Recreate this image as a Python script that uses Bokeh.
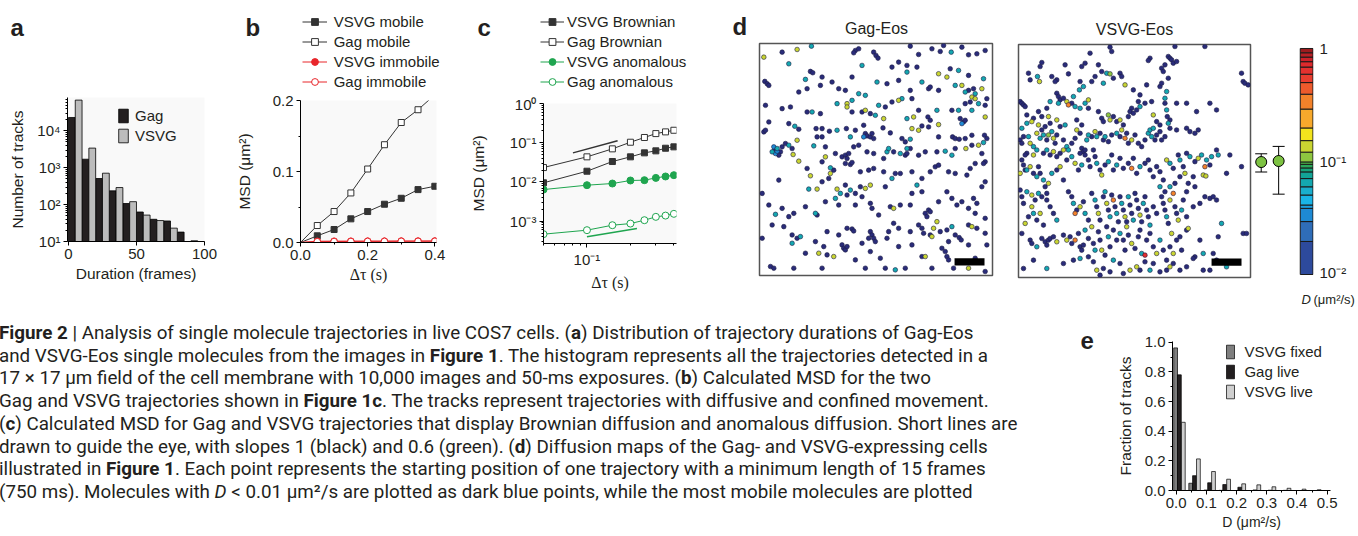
import numpy as np
from bokeh.plotting import figure
from bokeh.models import (Range1d, FixedTicker, Legend, LegendItem, Div,
                          BoxAnnotation, Whisker, TeeHead, ColumnDataSource, NumeralTickFormatter)
from bokeh.layouts import row, column
from bokeh.embed import file_html
from bokeh.resources import INLINE

SANS = "Liberation Sans"
SERIF = "Liberation Serif"
INK = "#231f20"
FS = "15px"

# ---------------- data ----------------
# (a) duration histogram (bins of 10 frames, split Gag | VSVG)
DURATION_BIN = [0, 10, 20, 30, 40, 50, 60, 70, 80, 90]
GAG_TRACKS = [23000, 1700, 510, 236, 107, 63, 40, 36, 18, 10.4]
VSVG_TRACKS = [68000, 3400, 710, 290, 120, 52, 37, 23, 10, 10]

# (b) MSD linear
TAU = [0.05, 0.10, 0.15, 0.20, 0.25, 0.30, 0.35, 0.40]
B_VSVG_MOBILE = [0.0094, 0.0183, 0.0333, 0.0436, 0.0539, 0.0623, 0.0745, 0.0792]
B_GAG_MOBILE = [0.0239, 0.0436, 0.0698, 0.1035, 0.1377, 0.169, 0.187, 0.208]
B_VSVG_IMMOBILE = [0.0018, 0.0019, 0.0019, 0.0020, 0.0020, 0.0021, 0.0021, 0.0022]
B_GAG_IMMOBILE = [0.0012, 0.0014, 0.0015, 0.0016, 0.0016, 0.0017, 0.0017, 0.0018]

# (c) MSD log-log
C_VSVG_BROWN = [0.0095, 0.0188, 0.0332, 0.0437, 0.0552, 0.0621, 0.0724, 0.0785]
C_GAG_BROWN = [0.0233, 0.0437, 0.0698, 0.103, 0.136, 0.171, 0.189, 0.208]
C_VSVG_ANOM = [0.0064, 0.00828, 0.00912, 0.0109, 0.0111, 0.0127, 0.0138, 0.0149]
C_GAG_ANOM = [0.000467, 0.00059, 0.00079, 0.00087, 0.00106, 0.00129, 0.00139, 0.00154]
GUIDE1_X = [0.08, 0.163]
GUIDE1_Y = [0.0552, 0.1117]
GUIDE06_X = [0.1, 0.222]
GUIDE06_Y = [0.000399, 0.00065]

# (d) colour scale bands (D, um^2/s) and colours
CB_EDGES = [0.01, 0.0196, 0.0294, 0.0385, 0.0412, 0.0505, 0.0597, 0.0706, 0.0809, 0.0877,
            0.0944, 0.0991, 0.121, 0.153, 0.198, 0.291, 0.394, 0.499, 0.592, 0.685,
            0.764, 0.839, 0.916, 1.0]
CB_COLORS = ["#2d4a9c", "#2f6db8", "#1e8ad4", "#1b9fe0", "#1ab4e6", "#1aaecd", "#14a8b0",
             "#12a496", "#17a37a", "#2ba65a", "#4eb749", "#8ec640", "#c9d531", "#f2e31d",
             "#f7a92c", "#f3822a", "#ed5a2c", "#e83d2f", "#e4312f", "#dd2a2c", "#cc2229",
             "#b82025", "#9e1b1e"]
DARK_BLUE = "#2a2c7a"
# mean D with range, Gag / VSVG
EB_POS = [0, 1]
EB_D = [0.0989, 0.101]
EB_LO = [0.0807, 0.0514]
EB_HI = [0.117, 0.136]

# start positions (field units, 700 units = 17 um, y measured from top) and D
GAG_SPOTS = [
(25,55,.13),(80,40,.005),(125,32,.13),(168,22,.06),(300,35,.005),(310,30,.005),(295,42,.005),(355,40,.005),(362,50,.005),(368,58,.005),(465,22,.005),(490,47,.005),(530,30,.005),(555,38,.005),(565,20,.005),(588,40,.06),(620,25,.005),(640,48,.005),(665,45,.005),(690,35,.005),(100,75,.06),(320,80,.06),(410,85,.005),(430,70,.005),(455,80,.005),
(165,98,.005),(172,102,.005),(150,122,.06),(200,115,.005),(195,140,.005),(230,130,.005),(290,115,.005),(250,150,.005),(270,155,.005),(28,128,.005),(35,135,.005),(40,140,.005),(365,130,.06),(395,135,.005),(430,125,.005),(455,100,.06),(485,85,.005),(500,130,.06),(520,150,.005),(525,145,.005),(550,105,.13),(575,115,.13),(585,90,.005),(610,95,.06),(640,110,.005),(685,120,.06),(600,140,.06),(620,140,.13),(640,155,.005),(655,150,.005),(630,160,.06),(660,165,.06),(680,150,.13),(550,155,.005),(465,155,.005),(310,165,.06),(330,170,.06),(155,150,.005),(130,160,.005),
(30,200,.005),(80,210,.005),(105,205,.005),(155,220,.005),(170,220,.06),(195,225,.005),(245,195,.06),(275,195,.13),(275,205,.13),(290,185,.06),(290,220,.005),(320,220,.005),(330,215,.13),(345,225,.005),(360,230,.06),(370,200,.06),(385,240,.13),(390,205,.005),(410,190,.005),(430,185,.13),(440,180,.06),(470,180,.005),(475,235,.13),(455,240,.06),(490,215,.005),(518,235,.005),(525,245,.005),(545,215,.06),(550,258,.13),(590,215,.005),(610,215,.06),(630,195,.005),(645,190,.005),(650,175,.13),(660,180,.13),(670,195,.06),(690,200,.005),(695,180,.005),(690,235,.13),(615,240,.005),(625,250,.005),(620,255,.03),(630,245,.005),(650,215,.06),
(40,250,.005),(100,255,.005),(118,263,.06),(130,272,.005),(25,280,.005),(30,275,.005),(182,270,.005),(200,270,.005),(222,278,.005),(245,275,.06),(273,270,.005),(300,275,.005),(325,260,.005),(330,285,.005),(335,292,.005),(345,295,.005),(325,295,.03),(355,300,.005),(350,285,.005),(383,268,.005),(405,283,.005),(440,300,.005),(465,302,.06),(470,270,.13),(490,275,.13),(500,262,.005),(520,265,.005),(550,295,.005),(592,295,.005),(600,300,.005),(612,302,.005),(630,300,.005),(650,290,.005),(688,290,.005),(695,300,.005),(285,295,.06),(185,295,.005),(200,295,.005),
(55,325,.03),(65,330,.06),(75,340,.005),(60,345,.03),(70,350,.005),(50,340,.06),(80,325,.005),(90,315,.005),(100,320,.06),(110,330,.005),(65,338,.03),(58,333,.005),(125,305,.13),(113,348,.13),(130,368,.13),(175,322,.06),(210,325,.005),(210,355,.13),(240,345,.005),(260,355,.005),(270,350,.005),(275,360,.005),(280,345,.005),(270,375,.005),(285,378,.005),(290,372,.005),(295,325,.005),(310,320,.005),(335,340,.005),(355,345,.005),(385,360,.005),(395,340,.06),(400,330,.06),(415,340,.005),(435,345,.06),(450,350,.005),(455,345,.005),(450,310,.005),(455,330,.06),(465,330,.005),(490,350,.005),(510,340,.005),(545,340,.005),(570,338,.06),(590,350,.06),(600,330,.005),(632,330,.13),(650,320,.005),(670,320,.13),(685,312,.06),(680,345,.005),(690,370,.005),(685,375,.005),
(70,425,.005),(155,390,.005),(165,412,.13),(200,370,.005),(225,388,.06),(225,405,.13),(235,395,.005),(220,420,.005),(200,430,.005),(185,452,.13),(160,452,.06),(245,452,.13),(270,440,.005),(285,455,.06),(300,465,.005),(315,445,.005),(330,450,.13),(345,440,.13),(315,400,.005),(340,395,.005),(355,390,.005),(385,400,.005),(390,445,.005),(410,420,.06),(420,405,.005),(435,405,.005),(470,400,.005),(485,440,.06),(500,420,.005),(525,400,.005),(540,385,.005),(550,380,.005),(580,400,.005),(600,405,.005),(635,410,.005),(645,390,.005),(660,375,.005),(690,430,.005),(680,445,.005),
(20,465,.005),(40,500,.005),(60,528,.06),(80,510,.005),(100,535,.005),(115,525,.005),(150,505,.005),(180,525,.06),(185,530,.005),(210,490,.005),(240,480,.06),(250,500,.005),(255,465,.06),(275,470,.005),(300,500,.005),(320,475,.005),(345,495,.005),(350,510,.005),(370,530,.005),(405,505,.005),(415,510,.13),(435,500,.005),(465,500,.005),(470,465,.005),(500,460,.005),(510,525,.005),(515,535,.005),(520,515,.005),(525,520,.005),(545,550,.13),(550,490,.005),(575,460,.005),(590,480,.005),(605,500,.005),(620,490,.005),(640,510,.005),(655,480,.005),(665,495,.005),(660,525,.005),(690,540,.005),
(20,600,.005),(50,560,.005),(85,565,.005),(110,590,.005),(110,615,.06),(125,600,.005),(135,595,.06),(180,610,.005),(215,580,.005),(250,590,.005),(275,570,.005),(290,572,.005),(295,578,.005),(345,580,.005),(350,590,.005),(355,600,.005),(340,600,.005),(395,600,.005),(400,580,.005),(415,555,.005),(430,570,.005),(465,580,.005),(490,560,.005),(500,570,.005),(505,585,.005),(525,590,.005),(530,595,.13),(535,570,.13),(555,580,.005),(575,575,.005),(580,610,.005),(590,565,.06),(600,590,.005),(612,598,.005),(618,605,.005),(640,560,.005),(650,565,.13),(665,570,.005),(690,585,.005),(695,620,.005),(640,620,.005),
(45,685,.005),(55,690,.005),(115,690,.005),(150,645,.005),(190,645,.13),(205,625,.005),(215,650,.005),(235,655,.13),(200,690,.005),(260,620,.005),(265,630,.005),(270,635,.005),(275,625,.005),(300,665,.005),(330,690,.005),(345,640,.005),(375,660,.005),(390,690,.005),(420,695,.06),(430,625,.005),(450,690,.005),(470,620,.005),(500,655,.005),(510,655,.13),(530,690,.005),(560,630,.005),(570,640,.005),(575,655,.005),(580,665,.005),(595,690,.005),(640,690,.13),(660,660,.005),(690,700,.005),(320,615,.005),(360,610,.005),
]

VSVG_SPOTS = [
(290,22,.005),(295,35,.005),(410,55,.005),(405,62,.005),(465,50,.005),(470,55,.005),(475,60,.005),(480,70,.005),(490,65,.005),(455,75,.005),(445,85,.005),(450,95,.005),(575,20,.005),(485,20,.005),(230,40,.005),(215,70,.005),(205,80,.005),(155,75,.005),(85,68,.005),(80,80,.005),(45,100,.005),(115,110,.005),(130,120,.005),(125,125,.005),(165,102,.005),(255,75,.005),(265,95,.005),(280,100,.06),(290,102,.1),(320,100,.005),(325,110,.005),(300,115,.005),(270,130,.06),(245,110,.005),(235,125,.005),(200,125,.005),(210,140,.06),(198,150,.06),(335,135,.13),(360,150,.005),(380,165,.005),(400,135,.005),(440,140,.005),(445,130,.005),(465,115,.005),(460,155,.06),(455,175,.06),(685,100,.005),(690,125,.005),(695,130,.005),(705,135,.005),(78,125,.13),(72,110,.06),(50,120,.005),
(20,185,.005),(25,190,.005),(30,195,.005),(35,200,.005),(40,225,.005),(40,250,.06),(55,245,.13),(60,235,.005),(75,215,.005),(85,230,.005),(100,205,.005),(105,230,.13),(110,185,.06),(130,160,.005),(135,170,.005),(140,180,.005),(150,175,.005),(135,190,.06),(160,185,.13),(165,195,.3),(175,190,.005),(180,170,.06),(185,200,.06),(200,205,.06),(215,190,.06),(225,180,.13),(225,205,.005),(255,215,.005),(265,235,.005),(270,245,.005),(285,225,.1),(290,240,.13),(300,230,.005),(310,245,.005),(320,240,.13),(330,255,.005),(345,230,.005),(355,205,.005),(350,215,.005),(360,220,.005),(370,210,.005),(380,200,.06),(375,185,.005),(395,190,.005),(415,185,.005),(420,225,.13),(430,245,.005),(440,255,.005),(455,190,.005),(460,210,.06),(462,230,.005),(465,250,.06),(470,240,.005),(470,265,.005),(490,190,.005),(520,190,.005),(550,215,.005),(590,190,.005),(610,210,.005),(25,265,.06),(30,290,.005),(75,255,.13),(95,260,.005),(110,250,.005),(130,240,.13),(155,255,.06),(190,240,.005),(205,255,.005),
(20,300,.005),(25,310,.005),(45,290,.06),(50,310,.13),(60,320,.06),(70,280,.13),(80,295,.06),(85,270,.005),(90,285,.06),(100,300,.005),(105,285,.1),(115,275,.06),(120,295,.13),(125,310,.005),(130,285,.005),(140,260,.005),(150,300,.005),(160,320,.06),(165,330,.06),(175,310,.005),(185,295,.005),(190,270,.13),(200,280,.005),(205,325,.005),(210,335,.005),(200,340,.005),(215,330,.005),(220,300,.06),(225,285,.06),(235,290,.005),(240,330,.005),(245,275,.13),(250,290,.06),(260,280,.005),(270,300,.005),(275,290,.06),(285,305,.005),(295,285,.005),(310,280,.06),(320,290,.005),(325,270,.13),(335,295,.3),(340,280,.005),(345,310,.005),(355,300,.13),(365,285,.005),(375,310,.005),(385,320,.005),(395,300,.005),(405,280,.06),(410,270,.06),(415,290,.06),(420,265,.06),(425,300,.005),(430,285,.005),(440,275,.005),(445,300,.005),(455,290,.005),(490,270,.005),(520,265,.005),(530,275,.005),(545,280,.005),(555,270,.005),(40,340,.005),(35,345,.005),(60,345,.13),(70,330,.06),(90,340,.005),(100,330,.06),(110,345,.005),(120,335,.13),(130,350,.005),(140,340,.005),(150,330,.13),
(25,360,.005),(30,375,.005),(35,390,.005),(20,400,.13),(40,390,.06),(50,380,.13),(60,400,.005),(70,410,.06),(75,380,.005),(80,400,.005),(90,420,.06),(95,440,.005),(100,460,.005),(105,430,.13),(115,400,.06),(130,390,.005),(140,380,.13),(150,420,.005),(160,360,.005),(175,350,.06),(185,370,.13),(195,390,.005),(205,375,.06),(215,345,.005),(225,360,.005),(230,380,.005),(245,350,.005),(250,370,.06),(260,390,.005),(265,405,.13),(275,375,.005),(285,365,.06),(295,345,.005),(300,390,.005),(310,375,.06),(320,355,.005),(330,385,.005),(345,370,.005),(355,385,.3),(360,355,.005),(370,400,.005),(380,380,.06),(395,370,.005),(405,360,.005),(410,390,.005),(420,410,.005),(430,380,.005),(440,395,.005),(460,360,.13),(470,370,.06),(480,385,.005),(495,345,.005),(500,360,.06),(510,380,.005),(515,400,.13),(520,340,.005),(530,350,.06),(545,365,.005),(555,355,.13),(565,345,.06),(575,380,.3),(580,360,.06),(590,375,.005),(595,350,.06),(610,330,.005),(615,345,.06),(570,405,.13),(578,408,.13),(540,410,.005),(525,430,.005),(545,440,.005),(520,455,.005),(485,430,.005),(500,410,.005),(450,420,.005),(470,440,.06),(455,455,.005),(640,400,.005),(685,380,.005),(650,345,.005),
(20,450,.005),(25,470,.005),(30,490,.005),(40,455,.06),(55,465,.13),(65,480,.005),(75,460,.06),(85,470,.005),(100,480,.005),(110,500,.005),(55,500,.13),(60,520,.06),(45,530,.005),(70,540,.005),(80,520,.13),(35,550,.13),(90,555,.005),(120,520,.005),(130,540,.06),(165,455,.005),(175,470,.005),(180,490,.06),(190,510,.005),(185,520,.3),(200,500,.13),(210,485,.005),(215,520,.06),(225,540,.005),(235,460,.005),(245,480,.06),(250,500,.005),(255,520,.13),(260,540,.005),(270,470,.005),(275,455,.06),(280,490,.13),(285,510,.005),(290,530,.06),(295,465,.005),(300,480,.3),(305,500,.005),(310,520,.06),(315,545,.005),(320,470,.005),(325,490,.06),(330,510,.005),(335,530,.13),(340,545,.005),(345,470,.06),(350,495,.005),(355,520,.005),(360,540,.06),(365,460,.005),(370,480,.005),(375,505,.005),(380,525,.13),(385,545,.005),(390,490,.06),(395,470,.005),(400,510,.005),(405,530,.005),(410,555,.06),(420,500,.005),(430,520,.005),(440,440,.06),(445,470,.005),(450,490,.005),(455,510,.005),(460,530,.06),(465,550,.005),(470,480,.13),(480,460,.3),(485,500,.005),(490,520,.005),(495,540,.13),(505,510,.06),(510,480,.005),(520,530,.005),(525,565,.13),(540,500,.005),(560,490,.005),(575,470,.005),(590,475,.005),(600,470,.005),(610,480,.005),
(25,580,.005),(50,600,.005),(55,610,.005),(70,620,.06),(85,595,.005),(95,605,.005),(100,615,.005),(105,600,.005),(110,595,.005),(120,590,.005),(130,605,.13),(150,585,.005),(160,600,.13),(170,590,.005),(175,610,.005),(185,600,.3),(195,580,.005),(200,620,.005),(205,630,.005),(210,615,.005),(215,570,.06),(225,595,.005),(235,560,.13),(240,610,.005),(245,630,.06),(255,575,.005),(260,600,.005),(265,630,.13),(275,645,.005),(280,560,.005),(285,590,.06),(290,620,.005),(300,570,.005),(310,600,.005),(320,580,.06),(330,600,.005),(335,630,.005),(340,560,.13),(345,585,.005),(355,610,.13),(365,625,.005),(375,590,.005),(380,570,.005),(385,640,.06),(395,645,.6),(400,600,.005),(410,580,.005),(420,620,.005),(430,640,.13),(440,600,.06),(450,630,.005),(460,660,.005),(470,620,.005),(475,580,.13),(490,600,.005),(500,590,.005),(505,630,.005),(520,570,.005),(480,640,.13),(545,650,.005),(570,640,.06),(560,600,.005),(600,640,.005),(625,550,.06),(615,590,.005),(690,580,.005),(700,580,.005),
(30,685,.005),(60,660,.005),(100,685,.06),(150,670,.005),(180,660,.005),(200,655,.06),(225,650,.005),(240,665,.005),(250,690,.13),(270,685,.005),(290,695,.005),(300,660,.06),(320,670,.005),(330,700,.005),(350,690,.13),(370,680,.13),(380,690,.005),(395,665,.005),(410,690,.06),(420,670,.005),(440,695,.005),(460,690,.005),(470,680,.13),(480,670,.005),(500,690,.005),(520,680,.005),(540,655,.005),(590,690,.005),(610,660,.005),(640,680,.06),(570,690,.005),(260,705,.005),
]
SCALE_BAR = 82  # 2 um in field units

# (e) histogram of D
D_BIN = [0.0, 0.05, 0.10, 0.15, 0.20, 0.25, 0.30, 0.35, 0.40, 0.45]
E_VSVG_FIXED = [0.962, 0.049, 0.003, 0.001, 0, 0, 0, 0, 0, 0]
E_GAG_LIVE = [0.78, 0.10, 0.052, 0.04, 0.022, 0.004, 0.002, 0.001, 0, 0]
E_VSVG_LIVE = [0.46, 0.213, 0.128, 0.076, 0.045, 0.038, 0.025, 0.015, 0.009, 0.005]

CAPTION = [
 "<b>Figure 2</b> | Analysis of single molecule trajectories in live COS7 cells. (<b>a</b>) Distribution of trajectory durations of Gag-Eos",
 "and VSVG-Eos single molecules from the images in <b>Figure 1</b>. The histogram represents all the trajectories detected in a",
 "17 &times; 17 &mu;m field of the cell membrane with 10,000 images and 50-ms exposures. (<b>b</b>) Calculated MSD for the two",
 "Gag and VSVG trajectories shown in <b>Figure 1c</b>. The tracks represent trajectories with diffusive and confined movement.",
 "(<b>c</b>) Calculated MSD for Gag and VSVG trajectories that display Brownian diffusion and anomalous diffusion. Short lines are",
 "drawn to guide the eye, with slopes 1 (black) and 0.6 (green). (<b>d</b>) Diffusion maps of the Gag- and VSVG-expressing cells",
 "illustrated in <b>Figure 1</b>. Each point represents the starting position of one trajectory with a minimum length of 15 frames",
 "(750 ms). Molecules with <i>D</i> &lt; 0.01 &mu;m&sup2;/s are plotted as dark blue points, while the most mobile molecules are plotted",
]

# ---------------- helpers ----------------
def style_axes(p):
    for ax in p.axis:
        ax.axis_line_color = "black"
        ax.axis_line_width = 1
        ax.major_tick_line_color = "black"
        ax.major_tick_out = 4
        ax.major_tick_in = 0
        ax.minor_tick_line_color = "black"
        ax.minor_tick_out = 2
        ax.minor_tick_in = 0
        ax.major_label_text_font = SANS
        ax.major_label_text_font_size = FS
        ax.major_label_text_color = INK
        ax.major_label_standoff = 3
        ax.axis_label_text_font = SANS
        ax.axis_label_text_font_size = "15.5px"
        ax.axis_label_text_font_style = "normal"
        ax.axis_label_text_color = INK


def mkfig(w, h, l, r, t, b, xr, yr, xt="linear", yt="linear", xloc="below", yloc="left", bg="#f9f9f9"):
    p = figure(width=w, height=h, x_range=xr, y_range=yr, x_axis_type=xt, y_axis_type=yt,
               x_axis_location=xloc, y_axis_location=yloc, output_backend="svg",
               toolbar_location=None, min_border_left=l, min_border_right=r,
               min_border_top=t, min_border_bottom=b, title=None, frame_align=False)
    p.grid.visible = False
    p.outline_line_color = None
    p.background_fill_color = bg
    p.border_fill_color = "white"
    style_axes(p)
    return p


def header(w, h):
    p = figure(width=w, height=h, x_range=Range1d(0, w), y_range=Range1d(h, 0),
               x_axis_location=None, y_axis_location=None, output_backend="svg",
               toolbar_location=None, min_border=0, title=None, frame_align=False)
    p.grid.visible = False
    p.outline_line_color = None
    p.background_fill_color = "white"
    p.border_fill_color = "white"
    return p


def txt(p, x, y, t, size=FS, font=SANS, style="normal", align="left", baseline="middle"):
    p.text(x=[x], y=[y], text=[t], text_font={"value": font}, text_font_size=size,
           text_font_style=style, text_align=align, text_baseline=baseline, text_color=INK)


def letter(p, x, y, t):
    txt(p, x, y, t, size="24px", style="bold", baseline="middle")


def ticks(ax, major, minor=(), labels=None):
    ax.ticker = FixedTicker(ticks=list(major), minor_ticks=list(minor))
    if labels is not None:
        ax.major_label_overrides = dict(zip(major, labels))


def log_minor(e0, e1):
    return [m * 10.0 ** e for e in range(e0, e1) for m in range(2, 10)]


def axlabel(ax, text, standoff, font=SANS, size="15.5px"):
    ax.axis_label = text
    ax.axis_label_standoff = standoff
    ax.axis_label_text_font = font
    ax.axis_label_text_font_size = size


def legend(p, items, loc, gw, gh, standoff, spacing):
    lg = Legend(items=items, location=loc, glyph_width=gw, glyph_height=gh, label_height=gh,
                label_width=10, label_standoff=standoff, spacing=spacing, padding=0, margin=0,
                border_line_color=None, background_fill_alpha=0,
                label_text_font=SANS, label_text_font_size=FS, label_text_color=INK)
    p.add_layout(lg)

OFF = [-100.0]  # legend-key renderers sit outside the header area

# ---------------- panel a ----------------
ha = header(232, 90)
letter(ha, 10, 27, "a")
pa = mkfig(232, 224, 67, 28, 7, 73, Range1d(-0.7, 100), Range1d(10, 8e4), yt="log")
bins = np.array(DURATION_BIN, dtype=float)
ra1 = pa.vbar(x=bins + 2.5, width=5, top=GAG_TRACKS, bottom=10, fill_color=INK, line_color="black", line_width=0.8)
ra2 = pa.vbar(x=bins + 7.5, width=5, top=VSVG_TRACKS, bottom=10, fill_color="#bcbcbc", line_color="black", line_width=0.8)
ticks(pa.xaxis[0], [0, 50, 100])
ticks(pa.yaxis[0], [10, 100, 1000, 10000], [m for m in log_minor(1, 5) if m < 8e4],
      ["10\u00b9", "10\u00b2", "10\u00b3", "10\u2074"])
legend(pa, [LegendItem(label="Gag", renderers=[ra1]), LegendItem(label="VSVG", renderers=[ra2])],
       (50, 97), 12, 17, 6, 3)
axlabel(pa.yaxis[0], "Number of tracks", 8)
axlabel(pa.xaxis[0], "Duration (frames)", 3)

# ---------------- panel b ----------------
BLACK = "#333333"
RED = "#e8262b"
hb = header(228, 92)
letter(hb, 13, 27, "b")
pb = mkfig(228, 222, 66, 24, 8, 72, Range1d(0, 0.405), Range1d(0, 0.2))
bx = [0.0] + TAU
series_b = [
    ("VSVG mobile", B_VSVG_MOBILE, BLACK, "square", BLACK, 6),
    ("Gag mobile", B_GAG_MOBILE, BLACK, "square", "white", 6),
    ("VSVG immobile", B_VSVG_IMMOBILE, RED, "circle", RED, 6.5),
    ("Gag immobile", B_GAG_IMMOBILE, RED, "circle", "white", 6.5),
]
items_b = []
for name, vals, col, mk, fill, sz in series_b:
    pb.line(bx, [0.0] + vals, line_color=col, line_width=1)
    pb.scatter(TAU, vals, marker=mk, size=sz, fill_color=fill, line_color=col, line_width=1)
    kl = hb.line(x=OFF, y=OFF, line_color=col, line_width=1)
    ks = hb.scatter(x=OFF, y=OFF, marker=mk, size=sz, fill_color=fill, line_color=col, line_width=1)
    items_b.append(LegendItem(label=name, renderers=[kl, ks]))
legend(hb, items_b, (69.7, 2.5), 25, 17, 7, 3)
ticks(pb.xaxis[0], [0, 0.2, 0.4], [0.1, 0.3])
ticks(pb.yaxis[0], [0, 0.1, 0.2], [0.05, 0.15])
pb.xaxis[0].formatter = NumeralTickFormatter(format="0.0")
pb.yaxis[0].formatter = NumeralTickFormatter(format="0.0")
axlabel(pb.yaxis[0], "MSD (\u03bcm\u00b2)", 17)
axlabel(pb.xaxis[0], "\u0394\u03c4 (s)", 3, font=SERIF, size="16px")

# ---------------- panel c ----------------
GREEN = "#1fa54f"
hc = header(240, 95)
letter(hc, 17, 27, "c")
pc = mkfig(240, 219, 83, 24, 8, 71, Range1d(0.05, 0.417), Range1d(2.7e-4, 1), xt="log", yt="log")
series_c = [
    ("VSVG Brownian", C_VSVG_BROWN, BLACK, "square", BLACK, 6),
    ("Gag Brownian", C_GAG_BROWN, BLACK, "square", "white", 6),
    ("VSVG anomalous", C_VSVG_ANOM, GREEN, "circle", GREEN, 7),
    ("Gag anomalous", C_GAG_ANOM, GREEN, "circle", "white", 7),
]
items_c = []
for name, vals, col, mk, fill, sz in series_c:
    pc.line(TAU, vals, line_color=col, line_width=1)
    pc.scatter(TAU, vals, marker=mk, size=sz, fill_color=fill, line_color=col, line_width=1)
    kl = hc.line(x=OFF, y=OFF, line_color=col, line_width=1)
    ks = hc.scatter(x=OFF, y=OFF, marker=mk, size=sz, fill_color=fill, line_color=col, line_width=1)
    items_c.append(LegendItem(label=name, renderers=[kl, ks]))
legend(hc, items_c, (80, 4.8), 24, 17, 3, 3)
pc.line(GUIDE1_X, GUIDE1_Y, line_color=BLACK, line_width=1.5)
pc.line(GUIDE06_X, GUIDE06_Y, line_color=GREEN, line_width=1.5)
ticks(pc.xaxis[0], [0.1], [0.05, 0.06, 0.07, 0.08, 0.09, 0.2, 0.3, 0.4], ["10\u207b\u00b9"])
ticks(pc.yaxis[0], [0.001, 0.01, 0.1, 1.0], [m for m in log_minor(-4, 0) if m > 2.7e-4],
      ["10\u207b\u00b3", "10\u207b\u00b2", "10\u207b\u00b9", "10\u2070"])
axlabel(pc.yaxis[0], "MSD (\u03bcm\u00b2)", 20)
axlabel(pc.xaxis[0], "\u0394\u03c4 (s)", 3, font=SERIF, size="16px")

# ---------------- panel d ----------------
def d_color(d):
    if d < CB_EDGES[0]:
        return DARK_BLUE
    i = int(np.searchsorted(CB_EDGES, d, side="right")) - 1
    return CB_COLORS[min(i, len(CB_COLORS) - 1)]


def map_fig(w, l, r, t, b, spots, xr0):
    p = mkfig(w, 274, l, r, t, b, Range1d(xr0, 712), Range1d(712, 14), xloc=None, yloc=None, bg="white")
    p.outline_line_color = "#555555"
    p.outline_line_width = 1.5
    sp = sorted(spots, key=lambda s: s[2])
    src = ColumnDataSource(dict(x=[s[0] for s in sp], y=[s[1] for s in sp], d=[s[2] for s in sp],
                                c=[d_color(s[2]) for s in sp]))
    p.scatter("x", "y", source=src, size=4.6, fill_color="c", line_color="#1c1c44", line_width=0.6)
    return p

hd1 = header(305, 40)
letter(hd1, 32, 26, "d")
txt(hd1, 176, 28, "Gag-Eos", size="16px", align="center")
pd1 = map_fig(305, 59, 13, 3, 39, GAG_SPOTS, 12)
pd1.add_layout(BoxAnnotation(left=598, right=598 + SCALE_BAR + 8, top=660, bottom=682,
                             fill_color="black", fill_alpha=1, line_color=None))
hd2 = header(247, 40)
txt(hd2, 129, 29, "VSVG-Eos", size="16px", align="center")
pd2 = map_fig(247, 13, 2, 4, 37, VSVG_SPOTS, 15)
pd2.add_layout(BoxAnnotation(left=595, right=595 + SCALE_BAR + 8, top=655, bottom=677,
                             fill_color="black", fill_alpha=1, line_color=None))

# colour bar + mean D
pcb = mkfig(104, 280, 0, 43, 47, 5, Range1d(-0.5, 3.0), Range1d(0.0098, 1.02), yt="log",
            xloc=None, yloc="right", bg="white")
pcb.quad(left=2.24, right=2.97, bottom=CB_EDGES[:-1], top=CB_EDGES[1:], fill_color=CB_COLORS,
         line_color="#1a1a1a", line_width=1)
eb = ColumnDataSource(dict(x=EB_POS, d=EB_D, lo=EB_LO, hi=EB_HI))
pcb.add_layout(Whisker(source=eb, base="x", upper="hi", lower="lo", line_color="black", line_width=1,
                       upper_head=TeeHead(size=12, line_color="black"),
                       lower_head=TeeHead(size=12, line_color="black")))
pcb.scatter("x", "d", source=eb, size=11, fill_color="#7dc242", line_color="black", line_width=1)
cax = pcb.yaxis[0]
ticks(cax, [0.01, 0.1, 1.0], [], ["10\u207b\u00b2", "10\u207b\u00b9", "1"])
cax.axis_line_color = None
cax.major_tick_line_color = None
cax.minor_tick_line_color = None
cax.major_label_standoff = 2
fcb = header(104, 34)
txt(fcb, 49, 19, "D", size="13px", style="italic")
txt(fcb, 61, 19, "(\u03bcm\u00b2/s)", size="13px")

# ---------------- panel e ----------------
he = header(37, 220)
letter(he, 7, 26, "e")
pe = mkfig(246, 220, 62, 26, 27, 44, Range1d(-0.0123, 0.511), Range1d(0, 1.005), bg="white")
db = np.array(D_BIN)
re1 = pe.vbar(x=db - 0.002, width=0.0125, top=E_VSVG_FIXED, bottom=0, fill_color="#7f7f7f", line_color="black", line_width=0.7)
re2 = pe.vbar(x=db + 0.0105, width=0.0125, top=E_GAG_LIVE, bottom=0, fill_color=INK, line_color="black", line_width=0.7)
re3 = pe.vbar(x=db + 0.0235, width=0.0125, top=E_VSVG_LIVE, bottom=0, fill_color="#cfcfcf", line_color="black", line_width=0.7)
ticks(pe.xaxis[0], [0, 0.1, 0.2, 0.3, 0.4, 0.5], [0.05, 0.15, 0.25, 0.35, 0.45])
ticks(pe.yaxis[0], [0, 0.2, 0.4, 0.6, 0.8, 1.0], [0.1, 0.3, 0.5, 0.7, 0.9])
pe.xaxis[0].formatter = NumeralTickFormatter(format="0.0")
pe.yaxis[0].formatter = NumeralTickFormatter(format="0.0")
legend(pe, [LegendItem(label="VSVG fixed", renderers=[re1]), LegendItem(label="Gag live", renderers=[re2]),
            LegendItem(label="VSVG live", renderers=[re3])], (53.4, 89.8), 10, 17, 9, 3)
axlabel(pe.yaxis[0], "Fraction of tracks", 8)
axlabel(pe.xaxis[0], "D (\u03bcm\u00b2/s)", 3, size="14px")

# ---------------- caption ----------------
cap = Div(text=('<div style="font-family:Roboto;font-size:18.8px;line-height:22.7px;color:#231f20;'
                'white-space:nowrap;margin-left:-1px;padding-top:8px;">' + "<br>".join(CAPTION) + "</div>"),
          width=1073, height=220, margin=0)

top = row(column(ha, pa), column(hb, pb), column(hc, pc), column(hd1, pd1), column(hd2, pd2), column(pcb, fcb))
bottom = row(cap, he, pe)
layout = column(top, bottom)
open("out.html", "w").write(file_html(layout, INLINE))
